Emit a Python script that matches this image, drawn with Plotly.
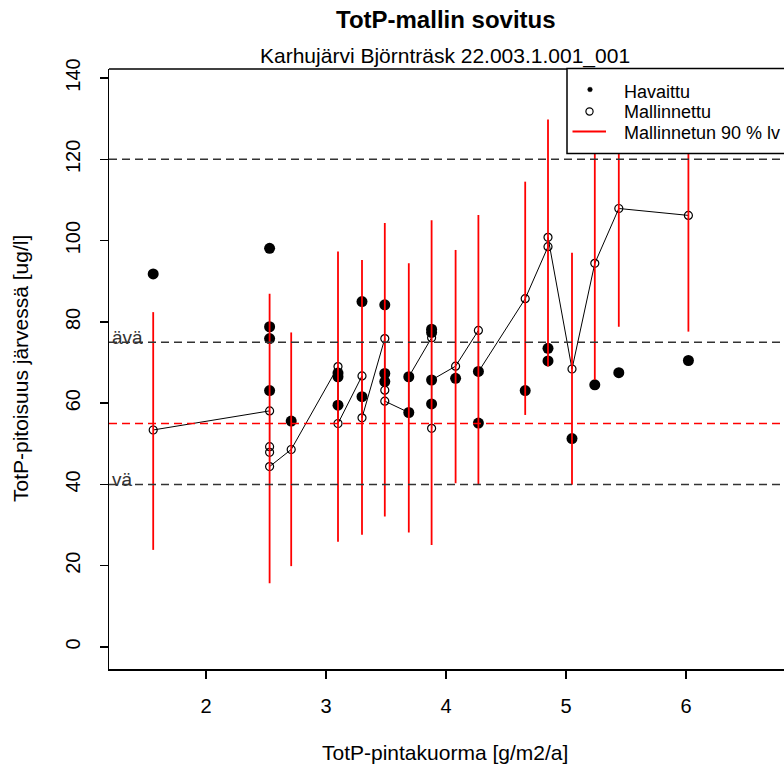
import plotly.graph_objects as go

# ---------------- data ----------------
obs_x = [1.56, 2.53, 2.53, 2.53, 2.53, 2.71, 3.10, 3.10, 3.10, 3.30, 3.30,
         3.49, 3.49, 3.49, 3.69, 3.69, 3.88, 3.88, 3.88, 3.88, 4.08, 4.27,
         4.27, 4.66, 4.85, 4.85, 5.05, 5.24, 5.44, 6.02]
obs_y = [91.8, 98.1, 78.8, 75.9, 63.1, 55.6, 67.4, 66.5, 59.5, 85.0, 61.6,
         84.2, 67.3, 65.3, 66.5, 57.7, 78.2, 77.4, 65.7, 59.8, 66.1, 67.8,
         55.1, 63.1, 73.5, 70.4, 51.3, 64.5, 67.5, 70.5]

mod_x = [1.56, 2.53, 2.53, 2.53, 2.53, 2.71, 3.10, 3.10, 3.30, 3.30, 3.49,
         3.49, 3.49, 3.69, 3.69, 3.88, 3.88, 3.88, 4.08, 4.27, 4.27, 4.66,
         4.85, 4.85, 5.05, 5.24, 5.44, 6.02]
mod_y = [53.4, 58.1, 49.3, 47.9, 44.4, 48.6, 69.0, 55.0, 66.7, 56.4, 75.9,
         63.2, 60.5, 57.7, 66.5, 76.1, 53.8, 65.7, 69.1, 77.9, 67.7, 85.7,
         98.5, 100.8, 68.4, 94.4, 107.9, 106.2]

ci_x = [1.56, 2.53, 2.71, 3.10, 3.30, 3.49, 3.69, 3.88, 4.08, 4.27, 4.66,
        4.85, 5.05, 5.24, 5.44, 6.02]
ci_lo = [23.9, 15.7, 19.9, 25.9, 27.6, 32.1, 28.2, 25.1, 40.3, 39.9, 57.1,
         69.0, 39.9, 65.7, 78.8, 77.6]
ci_hi = [82.4, 86.9, 77.4, 97.3, 95.2, 104.3, 94.4, 105.0, 97.7, 106.3, 114.5,
         129.8, 97.0, 125.0, 136.5, 133.0]

ref_lines_black = [120, 75, 40]
ref_line_red = 55
ref_labels = [("ävä", 75), ("vä", 40)]

x_ticks = [2, 3, 4, 5, 6]
y_ticks = [0, 20, 40, 60, 80, 100, 120, 140]

title = "TotP-mallin sovitus"
subtitle = "Karhujärvi Björnträsk 22.003.1.001_001"
xlab = "TotP-pintakuorma [g/m2/a]"
ylab = "TotP-pitoisuus järvessä [ug/l]"
legend_labels = ["Havaittu", "Mallinnettu", "Mallinnetun 90 % lv"]

# ---------------- layout geometry ----------------
W, H = 784, 773
L, T, B = 109, 69, 669      # plot edges in pixels
PW, PH = W - L, B - T
FONT = "Liberation Sans, Arial, sans-serif"


def px(xp):   # x pixel -> paper
    return (xp - L) / PW


def py(yp):   # y pixel -> paper
    return 1 - (yp - T) / PH


fig = go.Figure()

fig.add_trace(go.Scatter(x=obs_x, y=obs_y, mode="markers",
                         marker=dict(color="black", size=11, symbol="circle"),
                         showlegend=False, hoverinfo="skip"))
fig.add_trace(go.Scatter(x=mod_x, y=mod_y, mode="lines+markers",
                         line=dict(color="black", width=1),
                         marker=dict(color="black", size=8, symbol="circle-open",
                                     line=dict(width=1.2, color="black")),
                         showlegend=False, hoverinfo="skip"))

cx, cy = [], []
for x, lo, hi in zip(ci_x, ci_lo, ci_hi):
    cx += [x, x, None]
    cy += [lo, hi, None]
fig.add_trace(go.Scatter(x=cx, y=cy, mode="lines",
                         line=dict(color="#ff0000", width=1.8),
                         showlegend=False, hoverinfo="skip"))

shapes = []
for v in ref_lines_black:
    shapes.append(dict(type="line", xref="paper", yref="y", x0=0, x1=1, y0=v, y1=v,
                       line=dict(color="#333333", width=1.6, dash="8px,5px"),
                       layer="above"))
shapes.append(dict(type="line", xref="paper", yref="y", x0=0, x1=1,
                   y0=ref_line_red, y1=ref_line_red,
                   line=dict(color="#ff0000", width=1.6, dash="8px,5px"),
                   layer="above"))
# top border of plot box
shapes.append(dict(type="line", xref="paper", yref="paper", x0=0, x1=1.05, y0=1, y1=1,
                   line=dict(color="black", width=1.5), layer="above"))
# legend box
shapes.append(dict(type="rect", xref="paper", yref="paper",
                   x0=px(567), x1=px(800), y0=py(153.5), y1=py(68.5),
                   fillcolor="white", line=dict(color="black", width=1.5),
                   layer="above"))
# legend symbols
shapes.append(dict(type="circle", xref="paper", yref="paper",
                   xsizemode="pixel", ysizemode="pixel",
                   xanchor=px(590), yanchor=py(89.5),
                   x0=-2.3, x1=2.3, y0=-2.3, y1=2.3,
                   fillcolor="black", line=dict(color="black", width=0.5),
                   layer="above"))
shapes.append(dict(type="circle", xref="paper", yref="paper",
                   xsizemode="pixel", ysizemode="pixel",
                   xanchor=px(589.5), yanchor=py(111.5),
                   x0=-3.6, x1=3.6, y0=-3.6, y1=3.6,
                   fillcolor="white", line=dict(color="black", width=1.2),
                   layer="above"))
shapes.append(dict(type="line", xref="paper", yref="paper",
                   x0=px(572.5), x1=px(606), y0=py(131.5), y1=py(131.5),
                   line=dict(color="#ff0000", width=1.8), layer="above"))

annotations = [
    dict(text="<b>" + title + "</b>", x=px(446), y=py(19), xref="paper", yref="paper",
         xanchor="center", yanchor="middle", showarrow=False,
         font=dict(family=FONT, size=24, color="black")),
    dict(text=subtitle, x=px(445), y=py(56), xref="paper", yref="paper",
         xanchor="center", yanchor="middle", showarrow=False,
         font=dict(family=FONT, size=21, color="black")),
    dict(text=xlab, x=px(445), y=py(752), xref="paper", yref="paper",
         xanchor="center", yanchor="middle", showarrow=False,
         font=dict(family=FONT, size=21, color="black")),
    dict(text=ylab, x=px(20), y=0.5, xref="paper", yref="paper", textangle=-90,
         xanchor="center", yanchor="middle", showarrow=False,
         font=dict(family=FONT, size=21, color="black")),
]
for lab, v in ref_labels:
    annotations.append(dict(text=lab, x=0, y=v, xref="paper", yref="y",
                            xanchor="left", yanchor="middle", xshift=1, yshift=5,
                            showarrow=False,
                            font=dict(family=FONT, size=19, color="#333333")))
for lab, yy in zip(legend_labels, [92, 112, 132.5]):
    annotations.append(dict(text=lab, x=px(622), y=py(yy), xref="paper", yref="paper",
                            xanchor="left", yanchor="middle", showarrow=False,
                            font=dict(family=FONT, size=18, color="black")))

x0 = 2 - (206 - L) / 120
fig.update_layout(
    width=W, height=H,
    margin=dict(l=L, r=0, t=T, b=H - B, pad=0),
    paper_bgcolor="white", plot_bgcolor="white",
    font=dict(family=FONT, size=20, color="black"),
    showlegend=False,
    shapes=shapes, annotations=annotations,
    xaxis=dict(range=[x0, x0 + PW / 120], tickvals=x_ticks,
               ticks="outside", ticklen=8, tickwidth=1.5, tickcolor="black",
               ticklabelstandoff=10,
               showline=True, linecolor="black", linewidth=1.5,
               showgrid=False, zeroline=False,
               tickfont=dict(family=FONT, size=20, color="black")),
    yaxis=dict(range=[(647 - B) / 4.064, (647 - T) / 4.064], tickvals=y_ticks,
               tickangle=-90,
               ticks="outside", ticklen=8, tickwidth=1.5, tickcolor="black",
               ticklabelstandoff=12,
               showline=True, linecolor="black", linewidth=1.5,
               showgrid=False, zeroline=False,
               tickfont=dict(family=FONT, size=20, color="black")),
)

fig.write_html("out.html",
               config={"displayModeBar": False, "staticPlot": True},
               post_script="document.body.style.margin='0px';"
                           "document.body.style.overflow='hidden';")
